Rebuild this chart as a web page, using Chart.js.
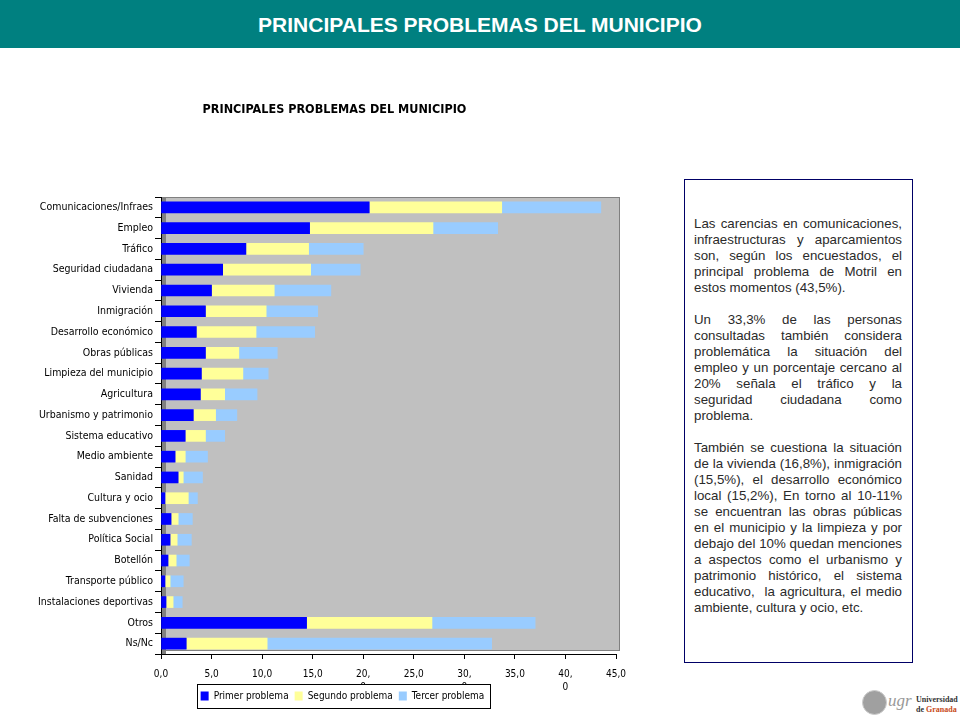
<!DOCTYPE html>
<html>
<head>
<meta charset="utf-8">
<script src="https://cdn.jsdelivr.net/npm/chart.js@4.4.1/dist/chart.umd.min.js"></script>
<style>
    body { margin: 0; width: 960px; height: 720px; background: #fff; position: relative; overflow: hidden; font-family: 'Liberation Sans', Arial, sans-serif; }
    .header { position: absolute; left: 0; top: 0; width: 960px; height: 48px; background: #008080; color: #fff; font-weight: bold; font-size: 21px; text-align: center; line-height: 49px; }
    #chartWrap { position: absolute; left: 25px; top: 90px; width: 611px; height: 630px; }
    .note { position: absolute; left: 684px; top: 179px; width: 229px; height: 484px; box-sizing: border-box; border: 1px solid #000066; padding: 36px 10px 0 9px; font-size: 13.3px; line-height: 16px; color: #2a2a2a; text-align: justify; }
    .note p { margin: 0 0 16px 0; }
    .logo { position: absolute; left: 860px; top: 688px; width: 100px; height: 30px; }
    .seal { position: absolute; left: 2px; top: 2px; width: 23px; height: 23px; border-radius: 50%; background: #a0a0a0; border: 1px solid #ccc; }
    .ugr { position: absolute; left: 28px; top: 3px; font-family: 'Liberation Serif', serif; font-style: italic; font-size: 17px; color: #999; }
    .uni { position: absolute; left: 56px; top: 7px; font-family: 'Liberation Serif', serif; font-weight: bold; font-size: 8px; line-height: 10px; color: #333; }
    .uni span { color: #c84b1a; }
</style>
</head>
<body>
<div class="header">PRINCIPALES PROBLEMAS DEL MUNICIPIO</div>
<div id="chartWrap"><canvas id="problemsChart" width="611" height="630"></canvas></div>
<div class="note">
    <p>Las carencias en comunicaciones, infraestructuras y aparcamientos son, según los encuestados, el principal problema de Motril en estos momentos (43,5%).</p>
    <p>Un 33,3% de las personas consultadas también considera problemática la situación del empleo y un porcentaje cercano al 20% señala el tráfico y la seguridad ciudadana como problema.</p>
    <p>También se cuestiona la situación de la vivienda (16,8%), inmigración (15,5%), el desarrollo económico local (15,2%), En torno al 10-11% se encuentran las obras públicas en el municipio y la limpieza y por debajo del 10% quedan menciones a aspectos como el urbanismo y patrimonio histórico, el sistema educativo,&nbsp; la agricultura, el medio ambiente, cultura y ocio, etc.</p>
</div>
<div class="logo">
    <div class="seal"></div>
    <div class="ugr">ugr</div>
    <div class="uni">Universidad<br>de <span>Granada</span></div>
</div>
<script>
const categories = [
    'Comunicaciones/Infraes', 'Empleo', 'Tráfico', 'Seguridad ciudadana', 'Vivienda',
    'Inmigración', 'Desarrollo económico', 'Obras públicas', 'Limpieza del municipio',
    'Agricultura', 'Urbanismo y patrimonio', 'Sistema educativo', 'Medio ambiente',
    'Sanidad', 'Cultura y ocio', 'Falta de subvenciones', 'Política Social', 'Botellón',
    'Transporte público', 'Instalaciones deportivas', 'Otros', 'Ns/Nc'
];
const primerProblema  = [20.6, 14.7, 8.4, 6.1, 5.0, 4.4, 3.5, 4.4, 4.0, 3.9, 3.2, 2.4, 1.4, 1.7, 0.4, 1.0, 0.9, 0.7, 0.4, 0.5, 14.4, 2.5];
const segundoProblema = [13.1, 12.2, 6.2, 8.7, 6.2, 6.0, 5.9, 3.3, 4.1, 2.4, 2.2, 2.0, 1.0, 0.5, 2.3, 0.7, 0.7, 0.8, 0.5, 0.7, 12.4, 8.0];
const tercerProblema  = [9.8, 6.4, 5.4, 4.9, 5.6, 5.1, 5.8, 3.8, 2.5, 3.2, 2.1, 1.9, 2.2, 1.9, 0.9, 1.4, 1.4, 1.3, 1.3, 0.9, 10.2, 22.2];
const xTickLabels = ['0,0', '5,0', '10,0', '15,0', ['20,', '0'], '25,0', ['30,', '0'], '35,0', ['40,', '0'], '45,0'];

const narrow = "'DejaVu Sans Condensed', 'Liberation Sans', sans-serif";

// gray plot area with a darker left wall, like the old 3D office chart
const plotBack = {
    id: 'plotBack',
    afterLayout(chart) {
        // the original title and legend sit a little right of centre
        const t = chart.titleBlock, l = chart.legend;
        t.left += 14; t.right += 14;
        l.left += 22; l.right += 22;
    },
    beforeDraw(chart) {
        const { ctx, chartArea: a } = chart;
        const w = a.right - a.left + 4;
        ctx.save();
        ctx.fillStyle = '#c0c0c0';
        ctx.fillRect(a.left, a.top, w, a.bottom - a.top - 4);
        ctx.strokeStyle = '#808080';
        ctx.lineWidth = 1;
        ctx.strokeRect(a.left + 0.5, a.top + 0.5, w - 1, a.bottom - a.top - 4);
        ctx.fillStyle = '#808080';
        ctx.fillRect(a.left, a.top, 5, a.bottom - a.top);
        ctx.restore();
    }
};

// white framed box round the legend, drawn over the wrapped tick labels
const legendBox = {
    id: 'legendBox',
    afterDraw(chart) {
        const boxes = chart.legend.legendHitBoxes;
        if (!boxes || !boxes.length) return;
        const left = Math.round(Math.min(...boxes.map(b => b.left)) - 4);
        const right = Math.round(Math.max(...boxes.map(b => b.left + b.width)) + 6);
        const top = Math.round(Math.min(...boxes.map(b => b.top)) - 7);
        const bottom = Math.round(Math.max(...boxes.map(b => b.top + b.height)) + 7);
        const ctx = chart.ctx;
        ctx.save();
        ctx.fillStyle = '#fff';
        ctx.fillRect(left, top, right - left, bottom - top);
        ctx.strokeStyle = '#000';
        ctx.lineWidth = 1;
        ctx.strokeRect(left + 0.5, top + 0.5, right - left, bottom - top);
        ctx.restore();
        chart.legend.draw();
    }
};

new Chart(document.getElementById('problemsChart'), {
    type: 'bar',
    data: {
        labels: categories,
        datasets: [
            { label: 'Primer problema', data: primerProblema, backgroundColor: '#0000ff' },
            { label: 'Segundo problema', data: segundoProblema, backgroundColor: '#ffff99' },
            { label: 'Tercer problema', data: tercerProblema, backgroundColor: '#99ccff' }
        ]
    },
    options: {
        indexAxis: 'y',
        responsive: false,
        animation: false,
        maintainAspectRatio: false,
        layout: { padding: { left: 0, right: 20, top: 10, bottom: 9 } },
        datasets: { bar: { barThickness: 11, borderWidth: 0 } },
        scales: {
            x: {
                stacked: true,
                min: 0, max: 45,
                afterFit(s) {
                    s.height = 31;
                    s._computeLabelArea = () => undefined;
                },
                afterBuildTicks(s) { s.ticks = xTickLabels.map((_, i) => ({ value: i * 5 })); },
                ticks: {
                    autoSkip: false,
                    maxRotation: 0,
                    padding: 9,
                    color: '#000',
                    font: { family: narrow, size: 10, lineHeight: 1.3 },
                    callback: (v, i) => xTickLabels[i]
                },
                grid: { drawOnChartArea: false, tickLength: 5, color: '#000' },
                border: { color: '#000' }
            },
            y: {
                stacked: true,
                afterFit(s) { s.width = 136; },
                ticks: { padding: 2, color: '#000', font: { family: narrow, size: 10.5 } },
                grid: { drawOnChartArea: false, tickLength: 6, color: '#000', offset: true },
                border: { color: '#000' }
            }
        },
        plugins: {
            title: {
                display: true,
                text: 'PRINCIPALES PROBLEMAS DEL MUNICIPIO',
                color: '#000',
                font: { family: narrow, size: 12.5, weight: 'bold' },
                padding: { top: 2, bottom: 80 }
            },
            legend: {
                position: 'bottom',
                labels: { boxWidth: 8, boxHeight: 9, padding: 6, color: '#000', font: { family: narrow, size: 10 } }
            },
            tooltip: { enabled: false }
        }
    },
    plugins: [plotBack, legendBox]
});
</script>
</body>
</html>
